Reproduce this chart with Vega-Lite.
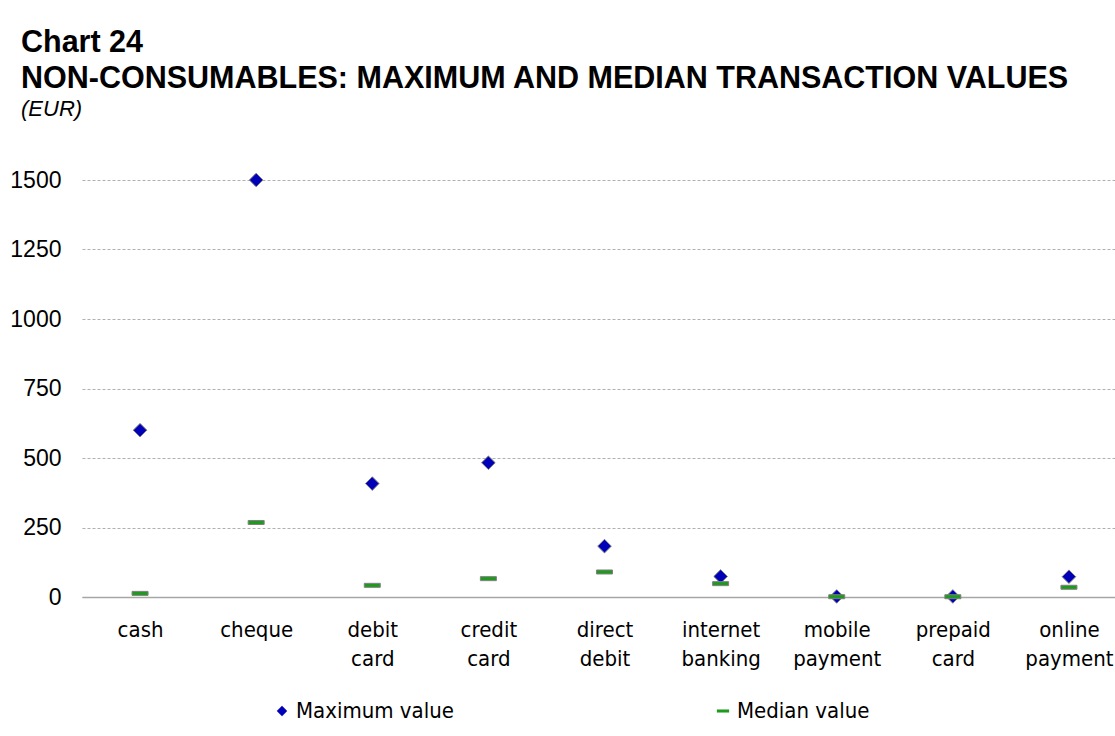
{
  "$schema": "https://vega.github.io/schema/vega-lite/v6.json",
  "autosize": {"type": "none"},
  "width": 1045,
  "height": 417,
  "padding": {"left": 82, "top": 180, "right": 0, "bottom": 139},
  "background": "white",
  "title": {
    "text": ["Chart 24", "NON-CONSUMABLES: MAXIMUM AND MEDIAN TRANSACTION VALUES"],
    "subtitle": "(EUR)",
    "anchor": "start",
    "frame": "group",
    "dx": -61,
    "offset": 49,
    "font": "Liberation Sans",
    "fontSize": 30.5,
    "fontWeight": "bold",
    "lineHeight": 36,
    "color": "black",
    "subtitleFont": "Liberation Sans",
    "subtitleFontSize": 22,
    "subtitleFontStyle": "italic",
    "subtitleColor": "black",
    "subtitlePadding": 5
  },
  "config": {
    "view": {"stroke": null},
    "axis": {"labelColor": "black"}
  },
  "data": {
    "values": [
      {"instrument": "cash", "series": "Maximum value", "value": 600},
      {"instrument": "cash", "series": "Median value", "value": 13},
      {"instrument": "cheque", "series": "Maximum value", "value": 1500},
      {"instrument": "cheque", "series": "Median value", "value": 268},
      {"instrument": "debit card", "series": "Maximum value", "value": 408},
      {"instrument": "debit card", "series": "Median value", "value": 42},
      {"instrument": "credit card", "series": "Maximum value", "value": 483},
      {"instrument": "credit card", "series": "Median value", "value": 66},
      {"instrument": "direct debit", "series": "Maximum value", "value": 183},
      {"instrument": "direct debit", "series": "Median value", "value": 90},
      {"instrument": "internet banking", "series": "Maximum value", "value": 74},
      {"instrument": "internet banking", "series": "Median value", "value": 48},
      {"instrument": "mobile payment", "series": "Maximum value", "value": 2},
      {"instrument": "mobile payment", "series": "Median value", "value": 1},
      {"instrument": "prepaid card", "series": "Maximum value", "value": 2},
      {"instrument": "prepaid card", "series": "Median value", "value": 1},
      {"instrument": "online payment", "series": "Maximum value", "value": 73},
      {"instrument": "online payment", "series": "Median value", "value": 35}
    ]
  },
  "mark": {"type": "point", "filled": true, "opacity": 1, "stroke": "#808080", "strokeWidth": 1, "size": 256},
  "encoding": {
    "x": {
      "field": "instrument",
      "type": "nominal",
      "sort": null,
      "scale": {"type": "point", "padding": 0.5},
      "axis": {
        "title": null,
        "labelAngle": 0,
        "labelExpr": "split(datum.label, ' ')",
        "labelFont": "Liberation Sans Narrow, DejaVu Sans Condensed, sans-serif",
        "labelFontSize": 22,
        "labelLineHeight": 29,
        "labelPadding": 22,
        "labelBaseline": "top",
        "ticks": false,
        "domain": true,
        "domainColor": "#a6a6a6",
        "domainWidth": 1.5,
        "grid": false
      }
    },
    "y": {
      "field": "value",
      "type": "quantitative",
      "scale": {"domain": [0, 1500], "nice": false},
      "axis": {
        "title": null,
        "values": [0, 250, 500, 750, 1000, 1250, 1500],
        "format": "d",
        "labelFont": "Liberation Sans",
        "labelFontSize": 23,
        "labelPadding": 21,
        "ticks": false,
        "domain": false,
        "grid": true,
        "gridColor": "#b0b0b0",
        "gridDash": [3, 2],
        "gridWidth": 1
      }
    },
    "shape": {
      "field": "series",
      "type": "nominal",
      "scale": {
        "domain": ["Maximum value", "Median value"],
        "range": ["M0,-0.85L0.85,0L0,0.85L-0.85,0Z", "M-1,-0.25H1V0.25H-1Z"]
      },
      "legend": {
        "orient": "none",
        "legendX": 189,
        "legendY": 520,
        "direction": "horizontal",
        "title": null,
        "labelFont": "Liberation Sans Narrow, DejaVu Sans Condensed, sans-serif",
        "labelFontSize": 22,
        "labelColor": "black",
        "symbolSize": 150,
        "symbolStrokeWidth": 0,
        "columnPadding": 258,
        "labelOffset": 3
      }
    },
    "color": {
      "field": "series",
      "type": "nominal",
      "scale": {"domain": ["Maximum value", "Median value"], "range": ["#0000B8", "#1E9A1E"]},
      "legend": {
        "orient": "none",
        "legendX": 189,
        "legendY": 520,
        "direction": "horizontal",
        "title": null,
        "labelFont": "Liberation Sans Narrow, DejaVu Sans Condensed, sans-serif",
        "labelFontSize": 22,
        "labelColor": "black",
        "symbolSize": 150,
        "symbolStrokeWidth": 0,
        "columnPadding": 258,
        "labelOffset": 3
      }
    }
  }
}
